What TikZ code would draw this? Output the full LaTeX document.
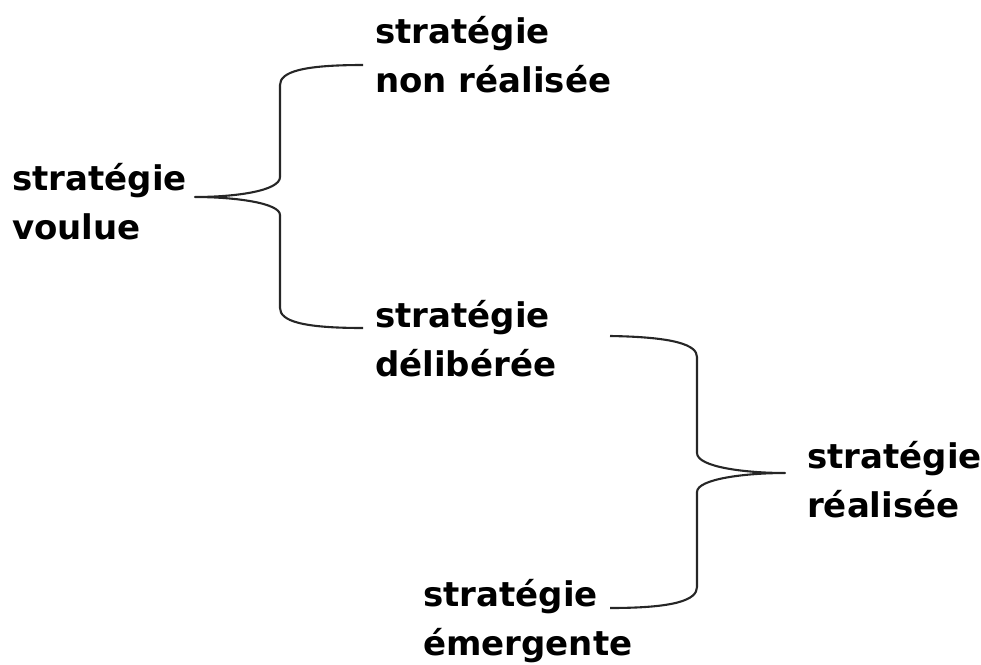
\documentclass[tikz,border=0pt]{standalone}
\usepackage{fontspec}
\setmainfont{DejaVu Sans}
\begin{document}
\begin{tikzpicture}[x=1pt,y=-1pt,
  label/.style={inner sep=0pt, anchor=base west, align=left,
    font=\fontsize{34}{48.5}\selectfont\bfseries},
  brace/.style={draw=black!85, line width=2.1pt, line join=round}]
\useasboundingbox (0,0) rectangle (981,664);

% labels (anchored on the baseline of their last line)
\node[label] (voulue)   at (12,239)  {stratégie\\voulue};
\node[label] (nonreal)  at (375,92)  {stratégie\\non réalisée};
\node[label] (delib)    at (375,376) {stratégie\\délibérée};
\node[label] (realisee) at (807,517) {stratégie\\réalisée};
\node[label] (emerg)    at (423,655) {stratégie\\émergente};

% brace ends
\coordinate (b1top) at (363,65);
\coordinate (b1tip) at (195,197);
\coordinate (b1bot) at (363,328);
\coordinate (b2top) at (610,336);
\coordinate (b2tip) at (785,473);
\coordinate (b2bot) at (610,608);

% intended strategy splits into unrealised and deliberate
\draw[brace] (b1top) .. controls (302,65) and (280,72) .. (280,85)
  -- (280,177) .. controls (280,191) and (235,197) .. (b1tip)
  .. controls (235,197) and (280,203) .. (280,215)
  -- (280,308) .. controls (280,321) and (302,328) .. (b1bot);

% deliberate and emergent combine into realised strategy
\draw[brace] (b2top) .. controls (675,337) and (697,345) .. (697,357)
  -- (697,453) .. controls (697,467) and (745,473) .. (b2tip)
  .. controls (745,473) and (697,479) .. (697,492)
  -- (697,587) .. controls (697,600) and (675,608) .. (b2bot);
\end{tikzpicture}
\end{document}
